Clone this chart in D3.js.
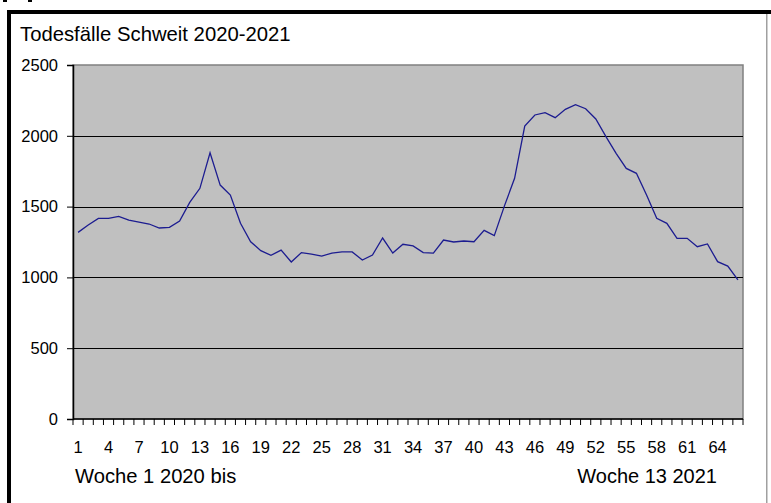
<!DOCTYPE html>
<html>
<head>
<meta charset="utf-8">
<script src="https://d3js.org/d3.v7.min.js"></script>
<style>
  body { margin: 0; background: #fff; }
  svg { display: block; }
</style>
</head>
<body>
<div id="chart"></div>
<script>
// weekly deaths, week 1 2020 .. week 13 2021
const weeks = d3.range(1, 67);
const deaths = [
  1318, 1370, 1417, 1417, 1431, 1405, 1391, 1377, 1349, 1354,
  1398, 1530, 1629, 1880, 1652, 1582, 1382, 1252, 1189, 1156,
  1193, 1109, 1175, 1165, 1151, 1172, 1180, 1180, 1123, 1158,
  1278, 1172, 1234, 1222, 1175, 1172, 1264, 1250, 1257, 1252,
  1332, 1295, 1505, 1700, 2069, 2147, 2164, 2128, 2187, 2220,
  2191, 2119, 1994, 1876, 1770, 1735, 1582, 1417, 1382, 1276,
  1276, 1217, 1236, 1111, 1080, 982
];
const yTicks = [0, 500, 1000, 1500, 2000, 2500];
const xLabelWeeks = d3.range(1, 67, 3);

const W = 771, H = 503;
const plot = { left: 73, right: 743, top: 65, bottom: 419 };

const svg = d3.select("#chart").append("svg")
  .attr("width", W).attr("height", H)
  .style("font-family", "Arial, 'Liberation Sans', sans-serif");

// frame of the screenshot
svg.append("rect").attr("x", 7).attr("y", 10).attr("width", 4).attr("height", H - 10).attr("fill", "#000");
svg.append("rect").attr("x", 7).attr("y", 10).attr("width", W - 7).attr("height", 4).attr("fill", "#000");
svg.append("rect").attr("x", 766).attr("y", 14).attr("width", 1.5).attr("height", H - 14).attr("fill", "#a0a0a0");
svg.append("rect").attr("x", 3).attr("y", 0).attr("width", 4).attr("height", 2).attr("fill", "#000");
svg.append("rect").attr("x", 28).attr("y", 0).attr("width", 4).attr("height", 2).attr("fill", "#000");

const x = d3.scaleBand().domain(weeks).range([plot.left, plot.right]);
const y = d3.scaleLinear().domain([0, 2500]).range([plot.bottom, plot.top]);

// plot area
svg.append("rect")
  .attr("x", plot.left).attr("y", plot.top)
  .attr("width", plot.right - plot.left).attr("height", plot.bottom - plot.top)
  .attr("fill", "#c0c0c0").attr("stroke", "#808080").attr("stroke-width", 1.5);

// gridlines
svg.append("g").selectAll("line")
  .data(yTicks.filter(d => d > 0 && d < 2500))
  .join("line")
  .attr("x1", plot.left).attr("x2", plot.right)
  .attr("y1", d => Math.round(y(d)) + 0.5).attr("y2", d => Math.round(y(d)) + 0.5)
  .attr("stroke", "#000").attr("stroke-width", 1.2);

// y axis
const yAxis = svg.append("g")
  .attr("transform", `translate(${plot.left},0)`)
  .call(d3.axisLeft(y).tickValues(yTicks).tickFormat(d3.format("d")).tickSize(6).tickPadding(9));
yAxis.select(".domain").attr("stroke", "#000").attr("stroke-width", 1.5);
yAxis.selectAll(".tick line").attr("stroke", "#000");
yAxis.selectAll("text").attr("font-size", 16.5).attr("fill", "#000");

// x axis: ticks between categories
const bounds = d3.range(0, weeks.length + 1).map(i => plot.left + i * x.step());
svg.append("line")
  .attr("x1", plot.left).attr("x2", plot.right)
  .attr("y1", plot.bottom).attr("y2", plot.bottom)
  .attr("stroke", "#000").attr("stroke-width", 1.5);
svg.append("g").selectAll("line").data(bounds).join("line")
  .attr("x1", d => d).attr("x2", d => d)
  .attr("y1", plot.bottom).attr("y2", plot.bottom + 6)
  .attr("stroke", "#000");
svg.append("g").selectAll("text").data(xLabelWeeks).join("text")
  .attr("x", d => x(d) + x.bandwidth() / 2)
  .attr("y", 453)
  .attr("text-anchor", "middle")
  .attr("font-size", 16.5)
  .text(d => d);

// line
svg.append("path")
  .datum(deaths)
  .attr("fill", "none")
  .attr("stroke", "#1c1c90")
  .attr("stroke-width", 1.3)
  .attr("d", d3.line()
    .x((d, i) => x(weeks[i]) + x.bandwidth() / 2)
    .y(d => y(d)));

// texts
svg.append("text").attr("x", 20).attr("y", 41).attr("font-size", 20.3)
  .text("Todesfälle Schweit 2020-2021");
svg.append("text").attr("x", 75).attr("y", 483).attr("font-size", 20.2)
  .text("Woche 1 2020 bis");
svg.append("text").attr("x", 717).attr("y", 483).attr("font-size", 20)
  .attr("text-anchor", "end")
  .text("Woche 13 2021");
</script>
</body>
</html>
